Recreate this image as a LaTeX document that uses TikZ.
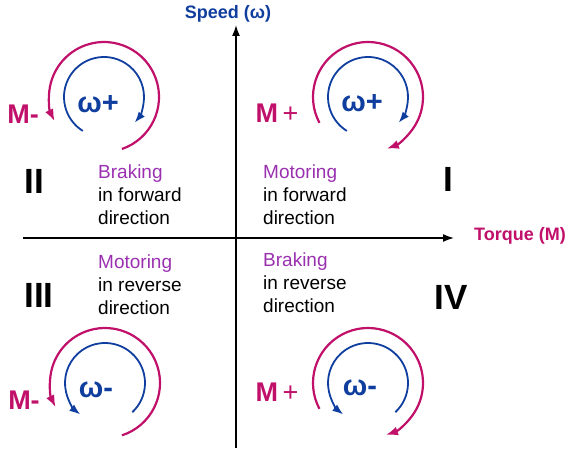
\documentclass[tikz,border=0pt]{standalone}
\usepackage{fontspec}
\setmainfont{Liberation Sans}
\usetikzlibrary{arrows.meta, positioning, calc}

\definecolor{torquered}{HTML}{C0106A}
\definecolor{modepurple}{HTML}{9A30B0}
\definecolor{speedblue}{HTML}{0F3E9E}

\begin{document}
\begin{tikzpicture}[
    x=1pt, y=1pt,
    axis/.style={-{Latex[length=11pt, width=8pt]}, line width=1.6pt, black},
    torquearc/.style={-{Latex[length=12pt, width=9pt]}, line width=2.2pt, torquered},
    speedarc/.style={-{Latex[length=11pt, width=8pt]}, line width=1.8pt, speedblue},
    omega/.style={font=\bfseries\fontsize{29}{29}\selectfont, text=speedblue, inner sep=0pt},
    torque/.style={font=\bfseries\fontsize{27}{27}\selectfont, text=torquered, inner sep=0pt},
    quadnum/.style={font=\bfseries\fontsize{35}{35}\selectfont, inner sep=0pt},
    mode/.style={font=\fontsize{19}{23}\selectfont, align=left, anchor=west, inner sep=0pt},
    axislabel/.style={font=\bfseries\fontsize{18}{18}\selectfont, inner sep=0pt}
]
\useasboundingbox (0,0) rectangle (572,450);

% Axes
\coordinate (origin) at (236,212);
\coordinate (speedbot) at (236,2);
\coordinate (speedtop) at (236,425);
\coordinate (torqueleft) at (23,212);
\coordinate (torqueright) at (454,212);
\draw[axis] (speedbot) -- (speedtop);
\draw[axis] (torqueleft) -- (torqueright);
\node[axislabel, text=speedblue] (speedlbl) at (228,436) {Speed (ω)};
\node[axislabel, text=torquered] (torquelbl) at (520,214) {Torque (M)};

% Circle centres
\coordinate (c1) at (368,353);
\coordinate (c2) at (104,353);
\coordinate (c3) at (105,67);
\coordinate (c4) at (368,67);

% Quadrant I
\draw[speedarc] ($(c1)+(238:40)$) arc[start angle=238, end angle=-40, radius=40];
\draw[torquearc] ($(c1)+(208:55)$) arc[start angle=208, end angle=-70, radius=55];
\node[omega] (w1) at ($(c1)+(-6,-6)$) {ω+};
\node[torque] (m1) at ($(c1)+(-91,-16)$) {M\,\mdseries+};
\node[quadnum] (q1) at (448,271) {I};
\node[mode] (t1) at (263,255) {\textcolor{modepurple}{Motoring}\\in forward\\direction};

% Quadrant II
\draw[speedarc] ($(c2)+(238:40)$) arc[start angle=238, end angle=-40, radius=40];
\draw[torquearc] ($(c2)+(-71:55)$) arc[start angle=-71, end angle=206, radius=55];
\node[omega] (w2) at ($(c2)+(-6,-7)$) {ω+};
\node[torque] (m2) at ($(c2)+(-81,-17)$) {M-};
\node[quadnum] (q2) at (34,269) {II};
\node[mode] (t2) at (98,255) {\textcolor{modepurple}{Braking}\\in forward\\direction};

% Quadrant III
\draw[speedarc] ($(c3)+(-47:40)$) arc[start angle=-47, end angle=232, radius=40];
\draw[torquearc] ($(c3)+(-72:55)$) arc[start angle=-72, end angle=206, radius=55];
\node[omega] (w3) at ($(c3)+(-9,-7)$) {ω-};
\node[torque] (m3) at ($(c3)+(-81,-17)$) {M-};
\node[quadnum] (q3) at (39,155) {III};
\node[mode] (t3) at (98,165) {\textcolor{modepurple}{Motoring}\\in reverse\\direction};

% Quadrant IV
\draw[speedarc] ($(c4)+(-47:40)$) arc[start angle=-47, end angle=232, radius=40];
\draw[torquearc] ($(c4)+(208:55)$) arc[start angle=208, end angle=-71, radius=55];
\node[omega] (w4) at ($(c4)+(-8,-5)$) {ω-};
\node[torque] (m4) at ($(c4)+(-91,-9)$) {M\,\mdseries+};
\node[quadnum] (q4) at (451,153) {IV};
\node[mode] (t4) at (263,167) {\textcolor{modepurple}{Braking}\\in reverse\\direction};

\end{tikzpicture}
\end{document}
